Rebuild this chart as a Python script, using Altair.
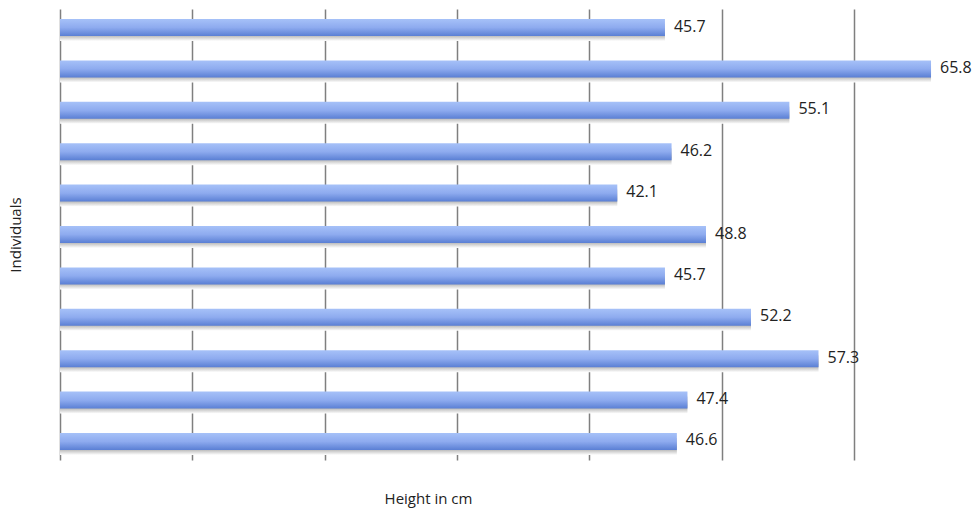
import altair as alt
import pandas as pd

individuals = ["1", "2", "3", "4", "5", "6", "7", "8", "9", "10", "11"]
heights = [45.7, 65.8, 55.1, 46.2, 42.1, 48.8, 45.7, 52.2, 57.3, 47.4, 46.6]
x_ticks = [0, 10, 20, 30, 40, 50, 60]

df = pd.DataFrame({"ind": individuals, "h": heights})
FONT = "Open Sans"

yscale = alt.Scale(domain=individuals, paddingInner=0.589, paddingOuter=0.2415)
xscale = alt.Scale(domain=[0, 69.5], nice=False, zero=True)

xaxis = alt.Axis(values=x_ticks, labels=False, ticks=False, domain=False,
                 grid=True, gridColor="#7f7f7f", gridWidth=1.5,
                 title="Height in cm", titleFont=FONT, titleFontSize=15,
                 titleFontWeight="normal", titleColor="#222222",
                 titleX=368, titleY=31, titleAlign="center")
yaxis = alt.Axis(labels=False, ticks=False, domain=False, grid=False,
                 title="Individuals", titleFont=FONT, titleFontSize=15,
                 titleFontWeight="normal", titleColor="#222222",
                 titleX=-37)

base = alt.Chart(df)

shadow = base.mark_bar(
    color=alt.Gradient(
        gradient="linear", x1=0, x2=0, y1=0, y2=1,
        stops=[alt.GradientStop(color="#d8d8d8", offset=0),
               alt.GradientStop(color="#9a9a9a", offset=0.55),
               alt.GradientStop(color="#ffffff", offset=1)]),
    yOffset=5,
).encode(
    x=alt.X("h:Q", scale=xscale, axis=xaxis),
    y=alt.Y("ind:N", scale=yscale, sort=individuals, axis=yaxis),
)

bars = base.mark_bar(
    color=alt.Gradient(
        gradient="linear", x1=0, x2=0, y1=0, y2=1,
        stops=[alt.GradientStop(color="#a6c1f8", offset=0),
               alt.GradientStop(color="#8eabef", offset=0.5),
               alt.GradientStop(color="#5a7fd4", offset=1)]),
).encode(
    x=alt.X("h:Q", scale=xscale, axis=xaxis),
    y=alt.Y("ind:N", scale=yscale, sort=individuals, axis=yaxis),
)

labels = base.mark_text(
    align="left", baseline="middle", dx=9, dy=-1,
    font=FONT, fontSize=16, color="#222222",
).encode(
    x=alt.X("h:Q", scale=xscale, axis=xaxis),
    y=alt.Y("ind:N", scale=yscale, sort=individuals, bandPosition=0.5, axis=yaxis),
    text=alt.Text("h:Q", format=".1f"),
)

chart = alt.layer(shadow, bars, labels).properties(
    width=920, height=451,
    background="white",
    autosize=alt.AutoSizeParams(type="none"),
    padding={"left": 60, "top": 9, "right": 0, "bottom": 54},
).configure_view(
    stroke="transparent", strokeWidth=0
).configure_axis(
    domain=False
)

chart.save("out.html", embed_options={"renderer": "svg", "actions": False})
